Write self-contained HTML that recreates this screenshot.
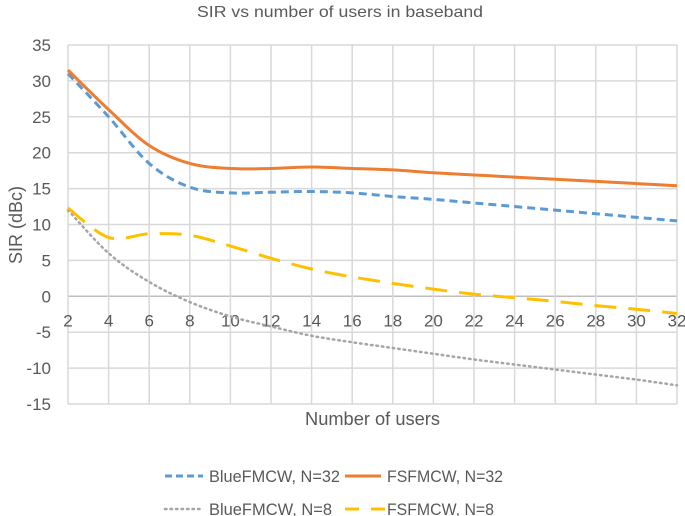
<!DOCTYPE html>
<html><head><meta charset="utf-8"><style>
html,body{margin:0;padding:0;background:#fff;}
svg{display:block;font-family:"Liberation Sans",sans-serif;}
</style></head><body>
<svg id="chart" width="685" height="516" viewBox="0 0 685 516">
<text x="197" y="17" textLength="286" lengthAdjust="spacingAndGlyphs" font-size="16" fill="#595959">SIR vs number of users in baseband</text>
<g id="grid"></g>
<g id="yticks"></g>
<g id="xticks"></g>
<g id="series"></g>
<text x="0" y="0" transform="translate(22,225) rotate(-90)" text-anchor="middle" font-size="18" fill="#595959">SIR (dBc)</text>
<text x="305" y="425" textLength="135" lengthAdjust="spacingAndGlyphs" font-size="18" fill="#595959">Number of users</text>
<g>
<g>
<line x1="165" y1="476" x2="203" y2="476" stroke="#5b9bd5" stroke-width="3" stroke-dasharray="7,4"/>
<text x="209" y="482" textLength="131" lengthAdjust="spacingAndGlyphs" font-size="17" fill="#595959">BlueFMCW, N=32</text></g>
<g>
<line x1="345" y1="476" x2="381" y2="476" stroke="#ed7d31" stroke-width="3"/>
<text x="387" y="482" textLength="116" lengthAdjust="spacingAndGlyphs" font-size="17" fill="#595959">FSFMCW, N=32</text></g>
<g>
<line x1="165" y1="509" x2="203" y2="509" stroke="#a5a5a5" stroke-width="2.5" stroke-dasharray="1.5,4" stroke-linecap="round"/>
<text x="209" y="515" textLength="123" lengthAdjust="spacingAndGlyphs" font-size="17" fill="#595959">BlueFMCW, N=8</text></g>
<g>
<line x1="345" y1="509" x2="385" y2="509" stroke="#ffc000" stroke-width="3" stroke-dasharray="14,12"/>
<text x="387" y="515" textLength="107" lengthAdjust="spacingAndGlyphs" font-size="17" fill="#595959">FSFMCW, N=8</text></g>
</g>
</svg>
<script>
const users = [2,4,6,8,10,12,14,16,18,20,22,24,26,28,30,32];
const fsN32 = [31.5,26,21,18.5,17.8,17.8,18,17.8,17.6,17.2,16.9,16.6,16.3,16,15.7,15.4];
const blueN32 = [31,25,18.5,15.2,14.4,14.5,14.6,14.4,13.9,13.5,13,12.5,12,11.5,11,10.5];
const fsN8 = [12.3,8.2,8.7,8.5,7,5.3,3.8,2.7,1.8,1,0.3,-0.2,-0.7,-1.3,-1.8,-2.4];
const blueN8 = [12,6,2,-0.8,-2.8,-4.2,-5.5,-6.4,-7.2,-8,-8.8,-9.5,-10.2,-10.9,-11.6,-12.4];
const yTicks = [-15,-10,-5,0,5,10,15,20,25,30,35];
const xTicks = [2,4,6,8,10,12,14,16,18,20,22,24,26,28,30,32];

const NS = "http://www.w3.org/2000/svg";
const X0 = 68, X1 = 677, Y0 = 404, Y1 = 45;
function xs(v){ return X0 + (v-2)/30*(X1-X0); }
function ys(v){ return Y0 - (v+15)/50*(Y0-Y1); }
function mk(tag, attrs, parent){ const e=document.createElementNS(NS,tag); for(const k in attrs) e.setAttribute(k,attrs[k]); parent.appendChild(e); return e; }

const grid=document.getElementById('grid');
const yt=document.getElementById('yticks');
const xt=document.getElementById('xticks');
yTicks.forEach(v=>{
  const l=mk('line',{x1:X0,x2:X1,y1:ys(v),y2:ys(v),stroke:v===0?'#bfbfbf':'#d9d9d9','stroke-width':1.5},grid);
  
  
  const t=mk('text',{x:51,y:ys(v)+6,'text-anchor':'end','font-size':17,fill:'#595959'},yt);
  t.textContent=v;
  
  
});
xTicks.forEach(v=>{
  const l=mk('line',{x1:xs(v),x2:xs(v),y1:Y1,y2:Y0,stroke:'#d9d9d9','stroke-width':1.5},grid);
  
  
  const t=mk('text',{x:xs(v),y:ys(0)+30,'text-anchor':'middle','font-size':17,fill:'#595959'},xt);
  t.textContent=v;
  
  
});
function smooth(vals){
  const p=users.map((u,i)=>[xs(u),ys(vals[i])]);
  let d='M'+p[0][0]+','+p[0][1];
  for(let i=0;i<p.length-1;i++){
    const a=p[Math.max(i-1,0)],b=p[i],c=p[i+1],e=p[Math.min(i+2,p.length-1)];
    const c1=[b[0]+(c[0]-a[0])/6,b[1]+(c[1]-a[1])/6];
    const c2=[c[0]-(e[0]-b[0])/6,c[1]-(e[1]-b[1])/6];
    d+=' C'+c1+' '+c2+' '+c;
  }
  return d;
}
const ser=document.getElementById('series');
const defs=[
  [blueN8,'#a5a5a5',2.5,'1.5,4','round','line-bluefmcw-n8'],
  [fsN8,'#ffc000',3,'22,12','butt','line-fsfmcw-n8'],
  [blueN32,'#5b9bd5',3,'8,5','butt','line-bluefmcw-n32'],
  [fsN32,'#ed7d31',3,'','butt','line-fsfmcw-n32']
];
defs.forEach(s=>{
  const p=mk('path',{d:smooth(s[0]),fill:'none',stroke:s[1],'stroke-width':s[2],'stroke-linecap':s[4]},ser);
  if(s[3]) p.setAttribute('stroke-dasharray',s[3]);
  
  
});
</script>
</body></html>
